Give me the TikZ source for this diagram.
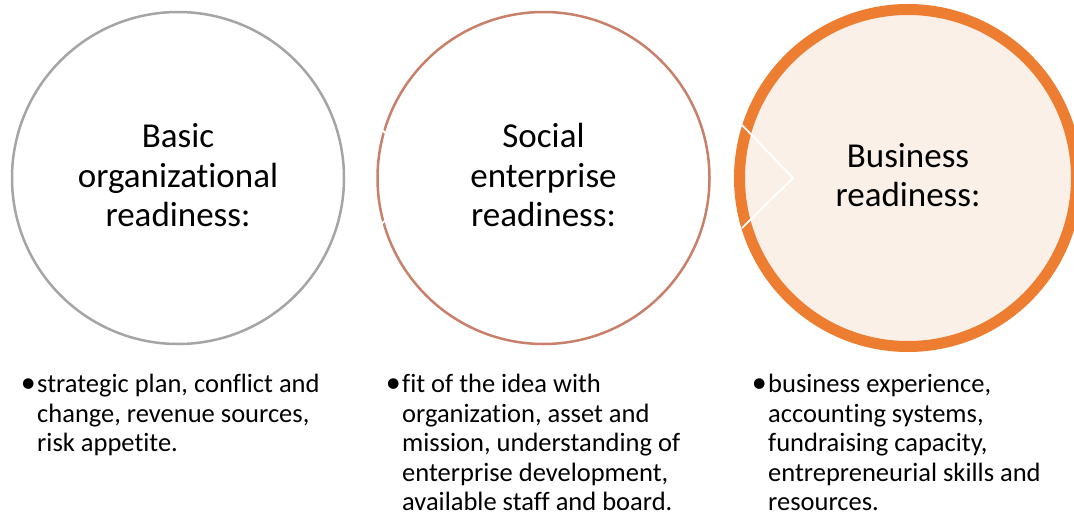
\documentclass[tikz,border=0pt]{standalone}
\usepackage{fontspec}
\setmainfont{Carlito}[Ligatures=NoCommon]
\definecolor{ringgray}{HTML}{A5A5A5}
\definecolor{ringbrown}{HTML}{C8806B}
\definecolor{ringorange}{HTML}{ED7D31}
\definecolor{ringfill}{HTML}{FBF0E8}
\newcommand{\bulletmark}{\llap{\fontsize{30}{30}\selectfont•\hspace{1.5pt}}}
\begin{document}
\begin{tikzpicture}[x=1pt,y=-1pt,
  stage/.style={circle, inner sep=0pt, minimum size=332pt, align=center,
    font=\fontsize{35}{39.5}\selectfont},
  notes/.style={anchor=north west, inner sep=0pt, align=left,
    font=\fontsize{26.5}{29.5}\selectfont},
  cut/.style={white, line width=1.8pt}]
\useasboundingbox (0,0) rectangle (1074,514);

% three stages
\node (basic) [stage, draw=ringgray, line width=2.5pt] at (178,178)
  {Basic\\organizational\\readiness:\vphantom{p}};
\node (social) [stage, draw=ringbrown, line width=2.5pt] at (543.5,178)
  {Social\\enterprise\\readiness:\vphantom{p}};
\node (business) [stage, draw=ringorange, fill=ringfill, line width=11pt,
  minimum size=337pt] at (908,178) {Business\\readiness:\vphantom{p}};

% chevron cuts across the rings
\coordinate (sa) at (377.5,125);
\coordinate (sb) at (428.5,178);
\coordinate (sc) at (377.5,228);
\draw[cut] (sa) -- (sb) -- (sc);
\coordinate (ba) at (742,125);
\coordinate (bb) at (793,178);
\coordinate (bc) at (742,228);
\draw[cut] (ba) -- (bb) -- (bc);

% bullet notes
\node (n1) [notes] at (37,374)
  {\bulletmark strategic plan, conflict and\\change, revenue sources,\\risk appetite.};
\node (n2) [notes] at (402,374)
  {\bulletmark fit of the idea with\\organization, asset and\\mission, understanding of\\enterprise development,\\available staff and board.};
\node (n3) [notes] at (768,374)
  {\bulletmark business experience,\\accounting systems,\\fundraising capacity,\\entrepreneurial skills and\\resources.};
\end{tikzpicture}
\end{document}
